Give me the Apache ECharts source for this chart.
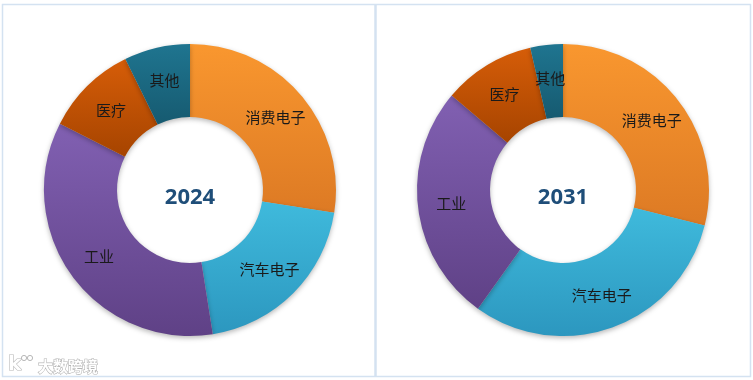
<!DOCTYPE html>
<html>
<head>
<meta charset="utf-8">
<script src="https://cdn.jsdelivr.net/npm/echarts@6/dist/echarts.min.js"></script>
<style>
html,body{margin:0;padding:0;background:#fff;}
#c{width:753px;height:380px;}
</style>
</head>
<body>
<div id="c"></div>
<script>
const categories = ['消费电子', '汽车电子', '工业', '医疗', '其他'];
const years = ['2024', '2031'];
const share2024 = [27.5, 20.0, 35.0, 10.2, 7.3];
const share2031 = [28.9, 31.0, 26.3, 10.2, 3.6];
const topColors = ['#F9972F', '#3FBADC', '#8160B2', '#D65D08', '#1F7590'];
const bottomColors = ['#DD7A24', '#2C97BF', '#5F4186', '#A64400', '#165A70'];

const chart = echarts.init(document.getElementById('c'), null, {renderer: 'canvas'});

function makeData(values) {
  return categories.map((name, i) => ({
    name: name,
    value: values[i],
    itemStyle: {
      color: {
        type: 'linear', x: 0, y: 0, x2: 0, y2: 1,
        colorStops: [{offset: 0, color: topColors[i]}, {offset: 1, color: bottomColors[i]}]
      }
    }
  }));
}

function makeSeries(values, cx) {
  return {
    type: 'pie',
    center: [cx, 190],
    radius: [73, 146],
    startAngle: 90,
    clockwise: true,
    avoidLabelOverlap: false,
    silent: true,
    itemStyle: {
      borderWidth: 0,
      shadowBlur: 5,
      shadowOffsetY: 2,
      shadowColor: 'rgba(0,0,0,0.28)'
    },
    label: {
      show: true,
      position: 'inside',
      formatter: '{b}',
      color: '#1a1a1a',
      fontSize: 15,
      fontFamily: '"Noto Sans CJK SC", sans-serif'
    },
    labelLine: {show: false},
    emphasis: {disabled: true},
    data: makeData(values)
  };
}

const borderColor = '#d4e2f1';

chart.setOption({
  animation: false,
  backgroundColor: '#fff',
  series: [makeSeries(share2024, 190), makeSeries(share2031, 563)],
  graphic: [
    {type: 'rect', shape: {x: 2.5, y: 4.5, width: 748, height: 372}, style: {fill: 'none', stroke: borderColor, lineWidth: 1.5}, silent: true},
    {type: 'line', shape: {x1: 375.5, y1: 4.5, x2: 375.5, y2: 376.5}, style: {stroke: borderColor, lineWidth: 2.5}, silent: true},
    {type: 'text', x: 190, y: 198, style: {text: years[0], fill: '#1F4E79', font: 'bold 22px "Open Sans", "Liberation Sans", sans-serif', textAlign: 'center', textVerticalAlign: 'middle'}, silent: true},
    {type: 'text', x: 563, y: 198, style: {text: years[1], fill: '#1F4E79', font: 'bold 22px "Open Sans", "Liberation Sans", sans-serif', textAlign: 'center', textVerticalAlign: 'middle'}, silent: true},
    {type: 'text', x: 8, y: 365, style: {text: 'k', fill: '#fff', stroke: '#b8b8b8', lineWidth: 1.2, font: 'bold 20px "DejaVu Sans", sans-serif', textVerticalAlign: 'middle'}, silent: true},
    {type: 'circle', shape: {cx: 24, cy: 358, r: 2.6}, style: {fill: 'none', stroke: '#b8b8b8', lineWidth: 1}, silent: true},
    {type: 'circle', shape: {cx: 30, cy: 358, r: 2.6}, style: {fill: 'none', stroke: '#b8b8b8', lineWidth: 1}, silent: true},
    {type: 'text', x: 38, y: 366, style: {text: '大数跨境', fill: '#fff', stroke: '#b5b5b5', lineWidth: 1.2, font: 'bold 15px "Noto Sans CJK SC", sans-serif', textVerticalAlign: 'middle'}, silent: true}
  ]
});
</script>
</body>
</html>
